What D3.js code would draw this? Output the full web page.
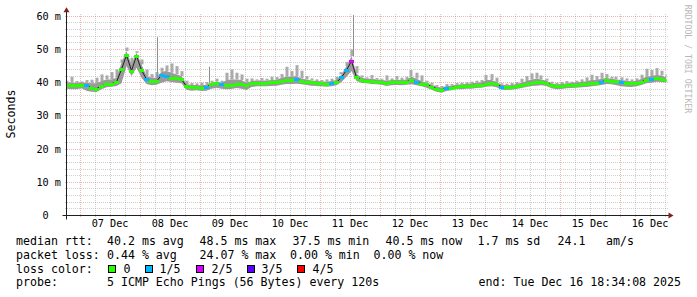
<!DOCTYPE html>
<html><head><meta charset="utf-8">
<script src="https://cdn.jsdelivr.net/npm/d3@7"></script>
<style>
html,body{margin:0;padding:0;background:#fff;}
svg{display:block;}
text{font-family:"DejaVu Sans Mono",monospace;white-space:pre;}
</style></head><body>
<svg id="chart" width="697" height="297"></svg>
<script>
// ---------------- data ----------------
const endTime = Date.UTC(2025, 11, 16, 18, 34, 8);
const spanDays = 10;
const stepHours = 2;

// median RTT (ms), one reading every 2 hours from the left edge
const median = [
 39.4,39.3,39.2,39.4,39.2,38.4,38.2,39.0,39.5,39.7,
 40.2,44.0,48.3,43.6,48.1,43.8,41.0,40.5,40.4,42.3,
 42.0,41.4,41.3,41.0,38.9,38.6,38.6,38.5,38.7,39.5,
 39.8,39.5,39.3,39.4,39.6,39.5,39.2,39.8,40.0,40.0,
 40.0,40.1,40.2,40.6,40.8,40.8,41.0,40.5,40.3,40.1,
 39.9,39.8,39.7,39.8,40.1,41.6,43.8,46.5,41.6,40.8,
 40.6,40.5,40.3,40.2,39.9,40.1,40.2,40.1,40.3,40.8,
 40.2,39.7,39.5,38.8,38.2,37.8,38.4,38.5,38.8,38.9,
 39.0,39.1,39.3,39.4,39.7,39.8,39.5,38.8,38.6,38.7,
 39.0,39.3,39.6,39.9,40.1,40.2,40.0,39.3,38.9,39.0,
 39.2,39.3,39.4,39.5,39.6,39.8,40.0,40.3,40.7,40.6,
 40.4,40.2,40.0,39.8,39.8,40.3,40.8,41.0,41.3,41.2,
 40.8
];
// smoke: lowest ping, top of the dense smoke, and highest ping of each reading (ms)
const smokeLo = [
 38.2,38.0,38.0,38.3,37.6,37.3,37.2,38.0,38.6,38.8,
 39.0,39.8,45.0,42.0,44.5,41.5,39.6,39.2,39.4,40.0,
 40.4,40.2,40.0,39.8,37.9,37.6,37.7,37.5,37.6,38.2,
 38.5,38.2,38.0,38.1,38.4,38.2,37.8,38.7,38.9,38.9,
 38.9,39.0,39.1,39.4,39.6,39.6,39.7,39.5,39.3,39.1,
 39.0,38.9,38.8,38.9,39.2,40.2,41.8,43.5,40.5,39.9,
 39.8,39.6,39.5,39.4,39.0,39.2,39.3,39.2,39.4,39.5,
 39.2,38.9,38.5,37.9,37.3,37.0,37.5,37.7,38.0,38.0,
 38.2,38.2,38.4,38.5,38.8,38.9,38.6,37.9,37.8,37.9,
 38.1,38.4,38.7,39.0,39.1,39.2,39.0,38.3,38.0,38.1,
 38.3,38.4,38.5,38.6,38.7,38.9,39.1,39.3,39.6,39.5,
 39.2,38.9,38.8,38.7,38.9,39.3,39.8,40.0,40.3,40.2,
 40.0
];
const smokeCore = [
 40.2,40.0,40.0,40.1,40.0,39.8,39.8,40.5,41.0,41.0,
 41.5,46.0,49.5,45.5,49.0,45.5,42.0,41.5,41.5,43.3,
 43.5,43.0,42.5,42.0,39.6,39.3,39.3,39.2,39.4,40.0,
 40.3,40.0,40.8,41.0,41.0,40.8,40.0,40.5,40.7,40.7,
 40.7,40.8,40.9,41.5,41.8,41.8,42.0,41.3,41.0,40.7,
 40.5,40.4,40.3,40.5,40.8,42.5,45.0,48.0,42.8,41.5,
 41.2,41.2,41.0,40.9,40.6,40.8,40.9,40.8,41.0,41.8,
 41.2,40.5,40.0,39.4,38.9,38.5,39.0,39.1,39.4,39.5,
 39.6,39.8,40.0,40.1,40.8,40.8,40.2,39.4,39.2,39.3,
 39.6,40.0,40.5,41.0,41.2,41.0,40.6,39.8,39.5,39.6,
 39.8,39.9,40.1,40.2,40.4,40.8,40.8,41.2,41.4,41.2,
 41.0,40.8,40.6,40.4,40.5,41.2,41.8,42.0,42.3,42.2,
 41.6
];
const smokeHi = [
 40.6,41.8,40.5,40.4,40.8,40.9,41.5,42.5,42.2,43.2,
 44.0,47.0,50.6,47.5,49.5,47.0,44.0,42.6,43.2,44.5,
 45.2,45.8,45.0,43.5,40.6,39.9,39.8,40.0,40.2,40.6,
 41.2,40.6,43.0,44.0,43.0,42.5,41.2,41.3,41.0,41.4,
 41.2,41.8,41.7,42.6,44.8,43.5,45.3,43.6,42.0,41.3,
 41.0,40.8,41.0,41.2,41.8,43.2,46.2,50.0,45.0,42.2,
 41.6,42.3,41.4,41.2,42.2,41.3,42.0,41.5,41.8,43.8,
 43.0,42.2,40.6,40.0,39.3,39.0,39.6,39.6,39.9,40.0,
 40.1,40.3,40.6,40.8,42.3,42.6,41.5,39.8,39.7,39.9,
 40.2,41.2,42.0,42.8,43.0,42.2,41.2,40.3,40.0,40.2,
 40.5,40.3,40.6,41.0,41.6,42.4,42.0,43.0,42.6,41.8,
 41.8,41.6,41.3,41.0,41.3,42.4,44.2,43.8,44.4,43.6,
 42.6
];
// lost pings out of 5 for each reading
const lossCount = [
 0,0,0,0,1,0,0,0,0,0,
 0,0,0,0,0,0,1,0,0,1,
 1,0,0,0,0,0,0,0,1,0,
 0,1,0,0,0,0,0,0,0,0,
 0,0,0,0,0,0,1,0,0,0,
 0,0,0,1,0,1,1,2,0,0,
 0,0,0,0,0,0,0,0,0,0,
 1,0,0,0,0,0,1,0,0,0,
 0,0,0,0,0,0,0,1,0,0,
 0,0,0,0,0,0,0,0,0,0,
 0,0,0,0,0,0,0,1,0,0,
 0,1,0,0,0,0,0,1,0,0,
 0
];
// isolated single-ping spikes
const spikeTimes = [Date.UTC(2025,11,8,7,4), Date.UTC(2025,11,9,3,40), Date.UTC(2025,11,11,13,30)];
const spikeValues = [53.7, 44.8, 60.4];

const yTickValues = [0, 10, 20, 30, 40, 50, 60];
const yTickLabels = ["0\u00a0\u00a0", "10 m", "20 m", "30 m", "40 m", "50 m", "60 m"];
const yTitle = "Seconds";
const watermark = "RRDTOOL / TOBI OETIKER";

const lossLabels = ["0", "1/5", "2/5", "3/5", "4/5"];
const lossColors = ["#26ff00", "#00b8ff", "#dd00ff", "#5e00ff", "#ff0000"];

const rttTitle = "median rtt:";
const rttStats = ["40.2 ms avg", "48.5 ms max", "37.5 ms min", "40.5 ms now", "1.7 ms sd", "24.1", "am/s"];
const lossTitle = "packet loss:";
const lossStats = ["0.44 % avg", "24.07 % max", "0.00 % min", "0.00 % now"];
const colorTitle = "loss color:";
const probeTitle = "probe:";
const probeText = "5 ICMP Echo Pings (56 Bytes) every 120s";
const endText = "end: Tue Dec 16 18:34:08 2025";

// ---------------- layout ----------------
const svg = d3.select("#chart");
const X0 = 66.5, X1 = 666.5, Y0 = 215.5, YTOP = 16.3;
const startTime = endTime - spanDays * 864e5;
const times = median.map((_, i) => new Date(startTime + i * stepHours * 3600e3));

const x = d3.scaleUtc().domain([new Date(startTime), new Date(endTime)]).range([X0, X1]);
const y = d3.scaleLinear().domain([0, 60]).range([Y0, YTOP]);
const crisp = v => Math.floor(v) + 0.5;

svg.append("rect").attr("width", 697).attr("height", 297).attr("fill", "#fff");

const defs = svg.append("defs");
defs.append("clipPath").attr("id", "plot").append("rect")
  .attr("x", X0).attr("y", 0).attr("width", X1 - X0).attr("height", Y0);

const minorCol = "rgba(143,143,143,0.42)";
const majorCol = "rgba(222,79,79,0.42)";

// horizontal grid
const gGrid = svg.append("g").attr("shape-rendering", "crispEdges");
const hMinor = d3.range(2, 60, 2).filter(v => v % 10 !== 0);
gGrid.selectAll(".hmin").data(hMinor).join("line")
  .attr("x1", X0 - 2).attr("x2", X1 + 2)
  .attr("y1", d => crisp(y(d))).attr("y2", d => crisp(y(d)))
  .attr("stroke", minorCol).attr("stroke-dasharray", "1,1");
gGrid.selectAll(".hmaj").data(yTickValues.filter(v => v > 0)).join("line")
  .attr("x1", X0 - 2).attr("x2", X1 + 2)
  .attr("y1", d => crisp(y(d))).attr("y2", d => crisp(y(d)))
  .attr("stroke", majorCol).attr("stroke-dasharray", "1,1");

// vertical grid
const vLines = d3.utcHour.every(6).range(new Date(startTime), new Date(endTime));
gGrid.selectAll(".v").data(vLines).join("line")
  .attr("x1", d => crisp(x(d))).attr("x2", d => crisp(x(d)))
  .attr("y1", YTOP - 2).attr("y2", Y0 + 2)
  .attr("stroke", d => d.getUTCHours() === 0 ? majorCol : minorCol)
  .attr("stroke-dasharray", "1,1");

// smoke
const gData = svg.append("g").attr("clip-path", "url(#plot)");
const idx = d3.range(median.length);
// outer (sparse) smoke as whiskers up to the highest ping
gData.selectAll(".whisk").data(idx).join("rect")
  .attr("x", i => Math.round(x(times[i])) - 1.5).attr("width", 3)
  .attr("y", i => y(smokeHi[i])).attr("height", i => Math.max(0, y(smokeCore[i]) - y(smokeHi[i])))
  .attr("fill", "#ababab");
// dense smoke
gData.append("path").datum(idx)
  .attr("d", d3.area().x(i => x(times[i])).y0(i => y(smokeLo[i])).y1(i => y(smokeCore[i])))
  .attr("fill", "#9a9a9a");

// spikes
const tnum = times.map(t => +t);
const bis = d3.bisector(d => d).center;
gData.selectAll(".spike").data(spikeTimes).join("line")
  .attr("x1", d => crisp(x(new Date(d)))).attr("x2", d => crisp(x(new Date(d))))
  .attr("y1", (d, k) => y(spikeValues[k]))
  .attr("y2", d => y(smokeCore[bis(tnum, d)]))
  .attr("stroke", "#8f8f8f").attr("stroke-width", 1);

// median connecting line
gData.append("path").datum(idx)
  .attr("d", d3.line().x(i => x(times[i])).y(i => y(median[i])))
  .attr("fill", "none").attr("stroke", "#202020").attr("stroke-width", 1);

// median colored by loss
const w = x(new Date(startTime + stepHours * 3600e3)) - X0;
gData.selectAll(".med").data(idx).join("rect")
  .attr("shape-rendering", "crispEdges")
  .attr("x", i => x(times[i]) - w / 2).attr("width", w)
  .attr("y", i => Math.round(y(median[i])) - 1).attr("height", 3)
  .attr("fill", i => lossColors[lossCount[i]]);

// axes
const axisCol = "#1f1f1f", arrowCol = "#801f1f";
svg.append("line").attr("x1", X0 - 4).attr("x2", X1 + 4).attr("y1", Y0).attr("y2", Y0)
  .attr("stroke", axisCol);
svg.append("line").attr("x1", X0).attr("x2", X0).attr("y1", Y0 + 4).attr("y2", YTOP - 5)
  .attr("stroke", axisCol);
svg.append("path").attr("d", `M${X1 + 2},${Y0 - 3}L${X1 + 2},${Y0 + 3}L${X1 + 7},${Y0}Z`).attr("fill", arrowCol);
svg.append("path").attr("d", `M${X0 - 3},${YTOP - 4}L${X0 + 3},${YTOP - 4}L${X0},${YTOP - 9}Z`).attr("fill", arrowCol);

// y tick labels
svg.selectAll(".ylab").data(yTickValues).join("text")
  .attr("x", 61).attr("y", d => y(d)).attr("dy", "0.35em")
  .attr("text-anchor", "end").attr("font-size", "10.2px").attr("fill", "#000")
  .text((d, k) => yTickLabels[k]);

// x tick labels at noon
const noons = d3.utcDay.range(new Date(startTime), new Date(endTime))
  .map(d => new Date(+d + 12 * 3600e3)).filter(d => d >= startTime && d <= endTime);
svg.selectAll(".xlab").data(noons).join("text")
  .attr("x", d => x(d)).attr("y", 227)
  .attr("text-anchor", "middle").attr("font-size", "10.2px").attr("fill", "#000")
  .text(d3.utcFormat("%d %b"));

// titles
svg.append("text").attr("transform", "translate(15,114) rotate(-90)")
  .attr("text-anchor", "middle").attr("font-size", "11.6px").text(yTitle);
svg.append("text").attr("transform", "translate(685,59) rotate(90)")
  .attr("text-anchor", "middle").attr("font-size", "8.2px").attr("fill", "#b8b8b8").text(watermark);

// legend
const fs = "11.6px";
const rows = [245, 258.8, 272.6, 286.4];
const L = (t, xx, yy, anchor) => svg.append("text").attr("x", xx).attr("y", yy)
  .attr("font-size", fs).attr("fill", "#000").attr("text-anchor", anchor || "start").text(t);

L(rttTitle, 16, rows[0]);
[107, 199.5, 292.5, 385.5, 477.5, 557.5, 606].forEach((xx, k) => L(rttStats[k], xx, rows[0]));
L(lossTitle, 16, rows[1]);
[107, 199.5, 290, 373.5].forEach((xx, k) => L(lossStats[k], xx, rows[1]));
L(colorTitle, 16, rows[2]);
const boxX = [108.5, 145.5, 196.5, 247.5, 297.5];
const labX = [123.5, 159.5, 211.5, 261.5, 312.5];
lossLabels.forEach((lab, k) => {
  svg.append("rect").attr("x", boxX[k]).attr("y", 265.5).attr("width", 7).attr("height", 7)
    .attr("fill", lossColors[k]).attr("stroke", "#000").attr("stroke-width", 1);
  L(lab, labX[k], rows[2]);
});
L(probeTitle, 16, rows[3]);
L(probeText, 107, rows[3]);
L(endText, 681, rows[3], "end");
</script>
</body></html>
